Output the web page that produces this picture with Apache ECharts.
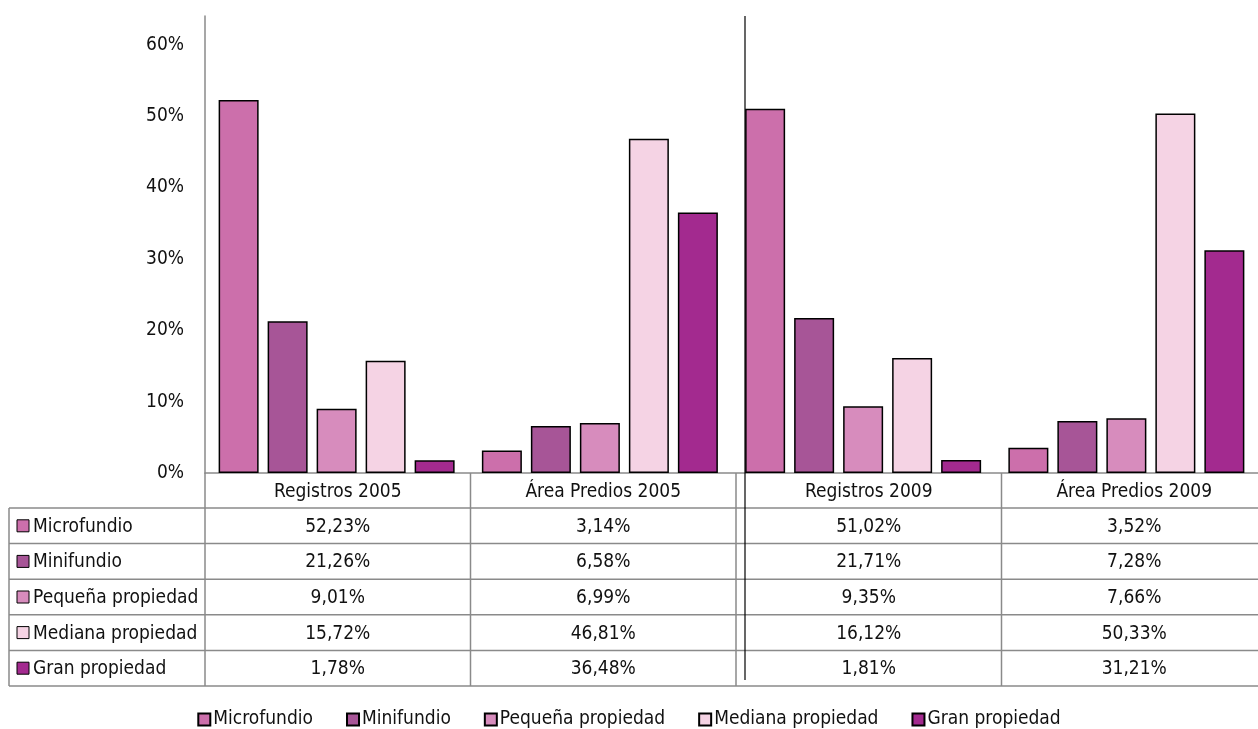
<!DOCTYPE html>
<html><head><meta charset="utf-8">
<script src="https://cdn.jsdelivr.net/npm/echarts@6/dist/echarts.min.js"></script>
<style>html,body{margin:0;padding:0;background:#fff}#c{width:1258px;height:729px}</style>
</head><body><div id="c"></div>
<script>
const categories = ['Registros 2005', 'Área Predios 2005', 'Registros 2009', 'Área Predios 2009'];
const seriesNames = ['Microfundio', 'Minifundio', 'Pequeña propiedad', 'Mediana propiedad', 'Gran propiedad'];
const microfundio = [52.23, 3.14, 51.02, 3.52];
const minifundio = [21.26, 6.58, 21.71, 7.28];
const pequena = [9.01, 6.99, 9.35, 7.66];
const mediana = [15.72, 46.81, 16.12, 50.33];
const gran = [1.78, 36.48, 1.81, 31.21];
const yTickStep = 10;

const seriesValues = [microfundio, minifundio, pequena, mediana, gran];
const colors = ['#CC6FAB', '#A75597', '#D78CBD', '#F5D3E4', '#A32A8F'];
const FONT = "'Liberation Sans Narrow','Arial Narrow','DejaVu Sans Condensed',sans-serif";
const GRID = { left: 205, right: -9, top: 16, bottom: 256 };
const W = 1258, H = 729;
const TBL_LEFT = 9, HEADER_H = 35, ROW_H = 35.6;
const LINE_C = '#8a8a8a';

const chart = echarts.init(document.getElementById('c'), null, { renderer: 'canvas' });

function fmt(v) { return v.toFixed(2).replace('.', ',') + '%'; }

const option = {
  animation: false,
  backgroundColor: '#fff',
  textStyle: { fontFamily: FONT },
  grid: GRID,
  legend: {
    data: seriesNames,
    top: 705,
    left: 'center',
    icon: 'rect',
    itemWidth: 12, itemHeight: 12, itemGap: 33,
    textStyle: { fontFamily: FONT, fontSize: 19, color: '#111', padding: [0, 0, 0, -2] }
  },
  xAxis: {
    type: 'category', data: categories,
    axisLine: { show: true, lineStyle: { color: LINE_C, width: 1.5 } },
    axisTick: { show: false }, axisLabel: { show: false }
  },
  yAxis: {
    type: 'value', min: 0, max: 64, interval: yTickStep,
    axisLine: { show: true, lineStyle: { color: LINE_C, width: 1.5 } },
    axisTick: { show: false }, splitLine: { show: false },
    axisLabel: {
      fontFamily: FONT, fontSize: 19, color: '#111', margin: 21,
      formatter: v => (v % yTickStep === 0 ? v + '%' : '')
    }
  },
  series: seriesNames.map((n, i) => ({
    name: n, type: 'bar', data: seriesValues[i],
    barWidth: 40, barGap: '22.5%',
    itemStyle: { color: colors[i], borderColor: '#000', borderWidth: 1.5 }
  }))
};
chart.setOption(option);

// Data table built from the grid geometry
const plotW = W - GRID.left - GRID.right;
const catW = plotW / categories.length;
const axisY = H - GRID.bottom;
const tableTop = axisY;
const bodyTop = tableTop + HEADER_H;
const tableBottom = bodyTop + ROW_H * seriesNames.length;
const g = [];
function hline(x1, x2, y, c, w) { g.push({ type: 'line', shape: { x1, y1: y, x2, y2: y }, style: { stroke: c || LINE_C, lineWidth: w || 1.5 }, z: 10 }); }
function vline(x, y1, y2, c, w) { g.push({ type: 'line', shape: { x1: x, y1, x2: x, y2 }, style: { stroke: c || LINE_C, lineWidth: w || 1.5 }, z: 10 }); }
function txt(x, y, s, align) { g.push({ type: 'text', x, y, style: { text: s, font: '19px ' + FONT, fill: '#111', textAlign: align || 'center', textVerticalAlign: 'middle' }, z: 11 }); }

for (let r = 0; r <= seriesNames.length; r++) hline(TBL_LEFT, W, bodyTop + r * ROW_H);
vline(TBL_LEFT, bodyTop, tableBottom);
vline(GRID.left, tableTop, tableBottom);
for (let c = 1; c < categories.length; c++) vline(GRID.left + c * catW, tableTop, tableBottom);
categories.forEach((cat, c) => txt(GRID.left + (c + 0.5) * catW, tableTop + HEADER_H / 2 + 2, cat));
seriesNames.forEach((n, r) => {
  const cy = bodyTop + (r + 0.5) * ROW_H;
  g.push({ type: 'rect', shape: { x: 17, y: cy - 6, width: 12, height: 12 }, style: { fill: colors[r], stroke: '#000', lineWidth: 1 }, z: 11 });
  txt(33, cy + 1, n, 'left');
  categories.forEach((cat, c) => txt(GRID.left + (c + 0.5) * catW, cy + 1, fmt(seriesValues[r][c])));
});
// black separator between 2005 and 2009
vline(GRID.left + 2 * catW + 9, GRID.top, tableBottom - 6, '#000', 1.2);

chart.setOption({ graphic: g });
</script></body></html>
